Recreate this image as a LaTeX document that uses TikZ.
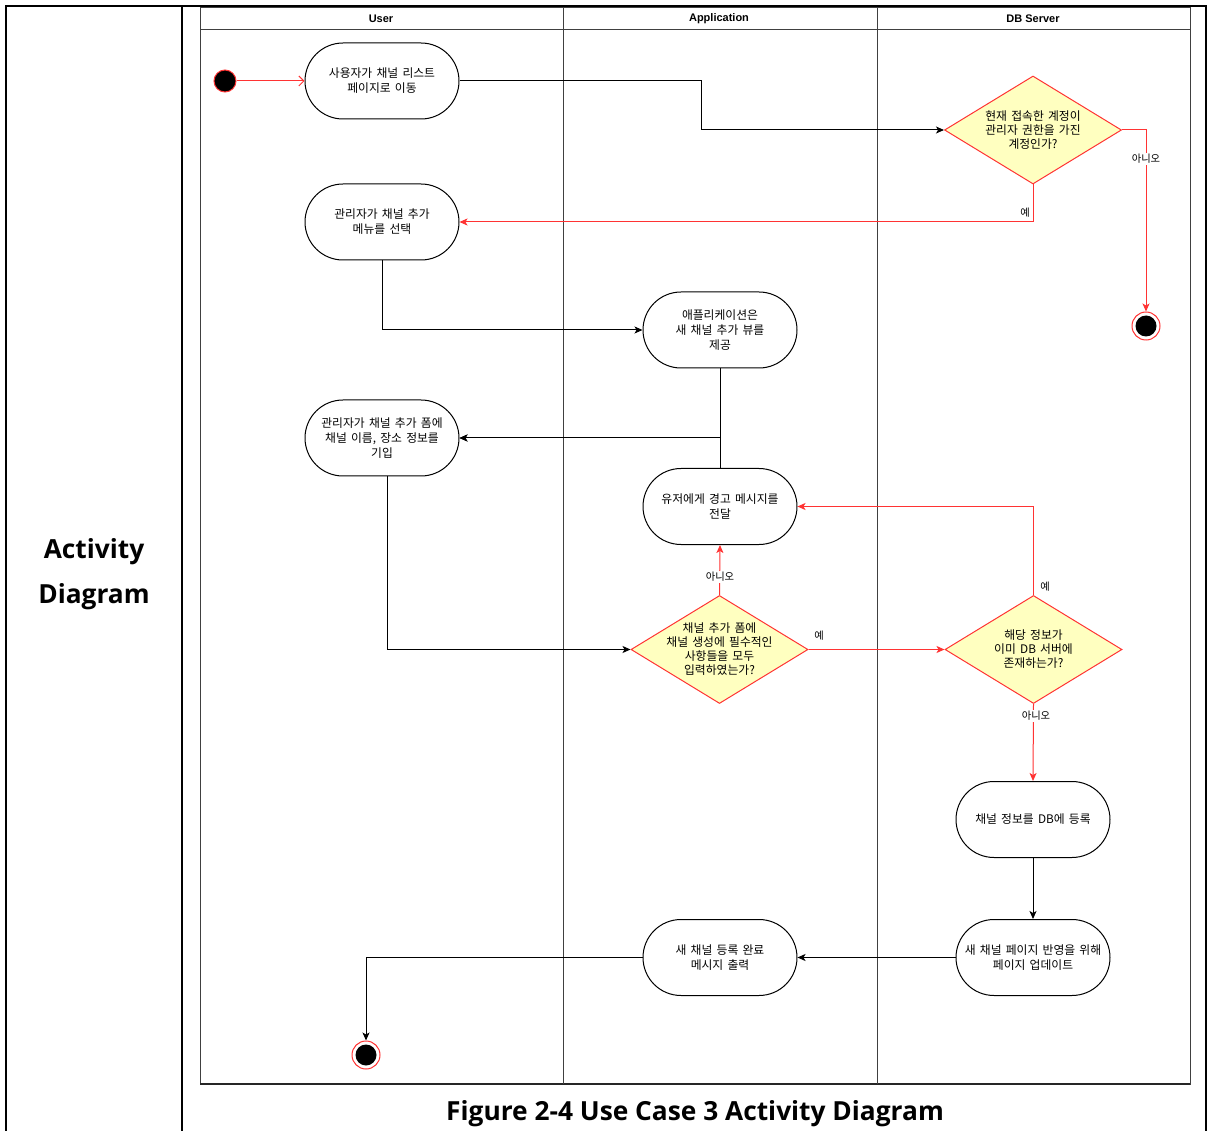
\documentclass[tikz,border=0pt]{standalone}
\usepackage{fontspec}
\setmainfont{Liberation Sans}
\newfontfamily\kr{Noto Sans CJK KR}[WordSpace=1.6]
\newfontfamily\capfont{Open Sans}
\usetikzlibrary{shapes.geometric,arrows.meta}
\definecolor{flowred}{HTML}{FF3333}
\definecolor{decfill}{HTML}{FFFFC0}
\begin{document}
\begin{tikzpicture}[x=1pt,y=-1pt,
  tbl/.style={line width=2.6pt,black},
  frame/.style={line width=1pt,black!75},
  pill/.style={draw,line width=1pt,rounded corners=38pt,minimum width=154pt,
    minimum height=76pt,inner sep=0pt,align=center,
    font=\kr\fontsize{11.8}{15}\selectfont},
  dec/.style={shape=diamond,draw=flowred,fill=decfill,line width=1pt,
    inner sep=0pt,minimum width=177pt,minimum height=108pt},
  dectext/.style={align=center,inner sep=0pt,font=\kr\fontsize{11.8}{14}\selectfont},
  startst/.style={circle,draw=flowred,fill=black,line width=1pt,minimum size=22pt,inner sep=0pt},
  endst/.style={circle,draw=flowred,fill=white,line width=1pt,minimum size=28pt,inner sep=0pt,
    path picture={\fill[black] (path picture bounding box.center) circle (10.5pt);}},
  flow/.style={line width=1pt,black,-{Stealth[length=8pt,width=7pt,inset=2pt]}},
  rflow/.style={line width=1pt,flowred,-{Stealth[length=8pt,width=7pt,inset=2pt]}},
  lbl/.style={fill=white,inner sep=1pt,font=\kr\fontsize{10.3}{11}\selectfont},
  hdr/.style={font=\fontsize{11}{13}\selectfont\bfseries,inner sep=0pt},
  big/.style={font=\capfont\fontsize{26.3}{30}\selectfont\bfseries,inner sep=0pt,align=center}
]
\useasboundingbox (0,0) rectangle (1208,1131);

% outer table
\draw[tbl] (6,1131) -- (6,6) -- (1206,6) -- (1206,1131);
\draw[tbl] (182,6) -- (182,1131);
\node[big] (side) at (94,574.5) {Activity\\[15pt]Diagram};
\node[big] (caption) at (695,1113.5) {Figure 2-4 Use Case 3 Activity Diagram};

% swimlane frame
\draw[frame] (200,8) rectangle (1190,1084);
\draw[line width=1.8pt,black!85] (200,1084) -- (1190,1084);
\draw[frame] (200,30) -- (1190,30);
\draw[frame] (563,8) -- (563,1084);
\draw[frame] (877,8) -- (877,1084);
\node[hdr] (hUser) at (381,19) {User};
\node[hdr] (hApp) at (719,19) {Application};
\node[hdr] (hDB) at (1033,19) {DB Server};

% activities
\node[pill] (n1) at (382,81) {사용자가 채널 리스트\\페이지로 이동};
\node[pill] (n2) at (382,222) {관리자가 채널 추가\\메뉴를 선택};
\node[pill] (n3) at (720,330) {애플리케이션은\\새 채널 추가 뷰를\\제공};
\node[pill] (n4) at (382,438) {관리자가 채널 추가 폼에\\채널 이름, 장소 정보를\\기입};
\node[pill] (n5) at (720,506.5) {유저에게 경고 메시지를\\전달};
\node[pill] (n6) at (1033,819.5) {채널 정보를 DB에 등록};
\node[pill] (n7) at (1033,957.5) {새 채널 페이지 반영을 위해\\페이지 업데이트};
\node[pill] (n8) at (720,957.5) {새 채널 등록 완료\\메시지 출력};

% decisions
\node[dec] (d1) at (1033,130) {};
\node[dectext] (d1t) at (1033,130) {현재 접속한 계정이\\관리자 권한을 가진\\계정인가?};
\node[dec] (d2) at (719.5,649.5) {};
\node[dectext] (d2t) at (719.5,649) {채널 추가 폼에\\채널 생성에 필수적인\\사항들을 모두\\입력하였는가?};
\node[dec] (d3) at (1033.5,649.5) {};
\node[dectext] (d3t) at (1033.5,649) {해당 정보가\\이미 DB 서버에\\존재하는가?};

% initial and final states
\node[startst] (s) at (225,81) {};
\node[endst] (e1) at (1146,326) {};
\node[endst] (e2) at (366,1055) {};

% flows
\draw[line width=1pt,flowred,-{Straight Barb[length=5pt,width=10pt]}] (s) -- (n1);
\draw[flow] (n1.east) -- ++(242,0) |- (d1.west);
\draw[rflow] (d1.south) |- (n2.east);
\draw[rflow] (d1.east) -| (e1.north);
\draw[flow] (n2.south) |- (n3.west);
\draw[flow] (n3.south) |- (n4.east);
\draw[flow] (n5.north) |- (n4.east);
\draw[flow] ([xshift=5pt]n4.south) |- (d2.west);
\draw[rflow] (d2.north) -- (n5.south);
\draw[rflow] (d2.east) -- (d3.west);
\draw[rflow] (d3.north) |- (n5.east);
\draw[rflow] (d3.south) -- (n6.north);
\draw[flow] (n6.south) -- (n7.north);
\draw[flow] (n7.west) -- (n8.east);
\draw[flow] (n8.west) -| (e2.north);

% guard labels
\node[lbl] (g1) at (1025,213) {예};
\node[lbl] (g2) at (1146,159) {아니오};
\node[lbl] (g3) at (720,577) {아니오};
\node[lbl] (g4) at (819,636) {예};
\node[lbl] (g5) at (1045,587) {예};
\node[lbl] (g6) at (1036,716) {아니오};
\end{tikzpicture}
\end{document}
